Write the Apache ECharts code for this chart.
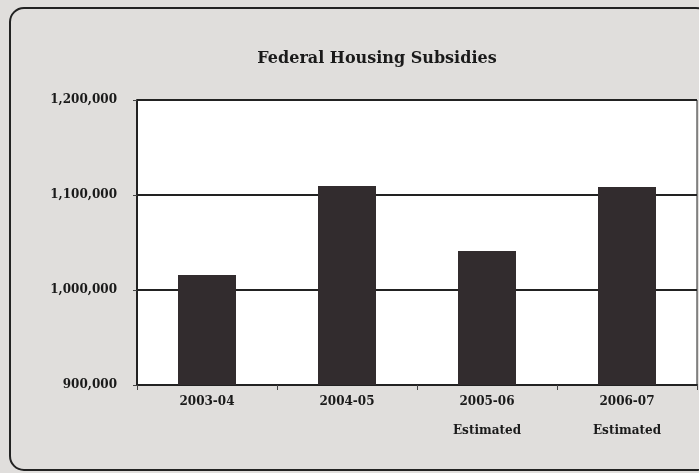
<!DOCTYPE html>
<html>
<head>
<meta charset="utf-8">
<script src="https://cdn.jsdelivr.net/npm/echarts@6/dist/echarts.min.js"></script>
<style>
  html, body { margin: 0; padding: 0; background: #e0dedc; }
  #main { width: 699px; height: 473px; }
</style>
</head>
<body>
<div id="main"></div>
<script>
var categories = ['2003-04', '2004-05', '2005-06\nEstimated', '2006-07\nEstimated'];
var subsidies = [1015800, 1109500, 1041000, 1108400];
var yTicks = [900000, 1000000, 1100000, 1200000];

var chart = echarts.init(document.getElementById('main'));
chart.setOption({
    backgroundColor: '#e0dedc',
    animation: false,
    title: {
        text: 'Federal Housing Subsidies',
        left: 372,
        top: 46,
        textAlign: 'center',
        textStyle: {
            fontFamily: 'DejaVu Serif',
            fontWeight: 'bold',
            fontSize: 16,
            color: '#1a1a1a'
        }
    },
    graphic: [{
        type: 'rect',
        shape: { x: 10, y: 8, width: 700, height: 462, r: 14 },
        style: { fill: 'none', stroke: '#222', lineWidth: 2 },
        z: 0
    }],
    grid: {
        left: 137,
        right: 2,
        top: 100,
        bottom: 88,
        show: true,
        backgroundColor: '#ffffff',
        borderColor: '#222',
        borderWidth: 1
    },
    xAxis: {
        type: 'category',
        data: categories,
        axisLine: { lineStyle: { color: '#222', width: 2 } },
        axisTick: { show: true, length: 5, lineStyle: { color: '#444' } },
        axisLabel: {
            margin: 2,
            lineHeight: 29,
            fontFamily: 'DejaVu Serif',
            fontWeight: 'bold',
            fontSize: 12,
            color: '#1a1a1a'
        }
    },
    yAxis: {
        type: 'value',
        min: 900000,
        max: 1200000,
        interval: 100000,
        axisLine: { show: true, lineStyle: { color: '#222', width: 2 } },
        axisTick: { show: true, length: 4, lineStyle: { color: '#444' } },
        splitLine: { show: true, lineStyle: { color: '#222', width: 2 } },
        axisLabel: {
            margin: 20,
            fontFamily: 'DejaVu Serif',
            fontWeight: 'bold',
            fontSize: 12,
            color: '#1a1a1a',
            formatter: function (v) {
                return yTicks.indexOf(v) >= 0 ? v.toLocaleString('en-US') : '';
            }
        }
    },
    series: [{
        name: 'Subsidies',
        type: 'bar',
        data: subsidies,
        barWidth: 58,
        itemStyle: { color: '#322c2e' }
    }]
});
</script>
</body>
</html>
